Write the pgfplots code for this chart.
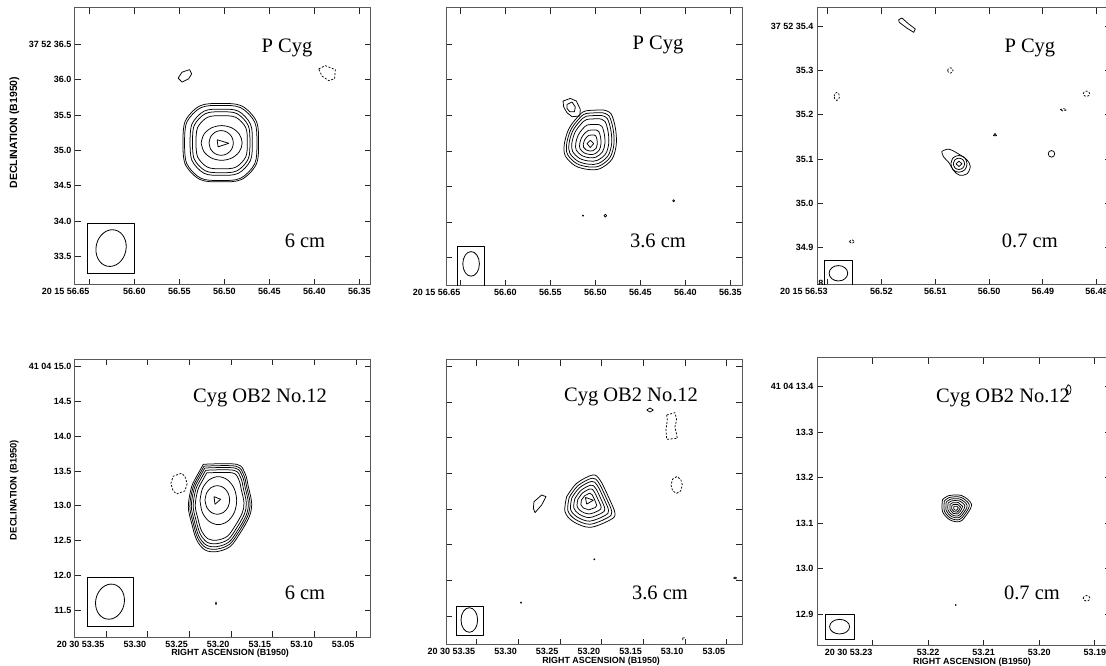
\documentclass[border=0pt]{standalone}
\usepackage{pgfplots}
\pgfplotsset{compat=1.18}
\usepackage{fontspec}
\setmainfont{Liberation Serif}
\newfontfamily\lsans{Liberation Sans}
\usetikzlibrary{shapes.geometric}
\newcommand{\tickfont}{\lsans\bfseries\fontsize{9}{10}\selectfont}
\newcommand{\labfont}{\lsans\bfseries\fontsize{8.9}{11}\selectfont}
\newcommand{\titfont}{\fontsize{20.5}{24}\selectfont}
\tikzset{beam/.style={draw=black, line width=0.8pt}}
\pgfplotsset{
  panel/.style={scale only axis, anchor=south west, x dir=reverse,
    axis line style={draw=black!65, line width=1pt},
    tick style={black!85, line width=0.8pt}, major tick length=6pt,
    tick align=inside, xtick pos=both, ytick pos=both,
    xticklabel style={font=\tickfont},
    yticklabel style={font=\tickfont},
    label style={font=\labfont},
    scaled x ticks=false, scaled y ticks=false, clip=true},
  cnt/.style={black, line width=0.75pt, mark=none, line join=round},
  scnt/.style={cnt, smooth, tension=0.55},
  neg/.style={cnt, dash pattern=on 2pt off 1.6pt},
}
\begin{document}
\begin{tikzpicture}
\useasboundingbox (0,0) rectangle (1106pt,666pt);
\clip (0,0) rectangle (1106pt,666pt);

% ---------------- Panel 1: P Cyg 6 cm
\begin{axis}[panel, at={(75pt,381pt)}, width=296pt, height=277pt,
  xmin=56.337, xmax=56.666, ymin=33.10, ymax=37.01,
  xtick={56.65,56.60,56.55,56.50,56.45,56.40,56.35},
  xticklabels={\llap{20 15 56.65},56.60,56.55,56.50,56.45,56.40,56.35},
  ytick={33.5,34.0,34.5,35.0,35.5,36.0,36.5},
  yticklabels={33.5,34.0,34.5,35.0,35.5,36.0,37 52 36.5},
  ylabel={DECLINATION (B1950)},
  ylabel style={at={(axis description cs:-0.205,0.55)}, anchor=center, font=\lsans\bfseries\fontsize{10.5}{12}\selectfont}]
\addplot[scnt] coordinates {(56.546,35.109) (56.5435,35.413) (56.5271,35.629) (56.504,35.662) (56.4809,35.629) (56.4645,35.413) (56.462,35.109) (56.4645,34.805) (56.4809,34.589) (56.504,34.556) (56.5271,34.589) (56.5435,34.805) (56.546,35.109)};
\addplot[scnt] coordinates {(56.5442,35.105) (56.5418,35.397) (56.5261,35.603) (56.504,35.635) (56.4819,35.603) (56.4662,35.397) (56.4638,35.105) (56.4662,34.813) (56.4819,34.607) (56.504,34.575) (56.5261,34.607) (56.5418,34.813) (56.5442,35.105)};
\addplot[scnt] coordinates {(56.5381,35.115) (56.536,35.372) (56.5225,35.554) (56.5035,35.582) (56.4845,35.554) (56.471,35.372) (56.4689,35.115) (56.471,34.858) (56.4845,34.676) (56.5035,34.648) (56.5225,34.676) (56.536,34.858) (56.5381,35.115)};
\addplot[scnt] coordinates {(56.5354,35.115) (56.5335,35.352) (56.521,35.519) (56.5035,35.545) (56.486,35.519) (56.4735,35.352) (56.4716,35.115) (56.4735,34.878) (56.486,34.711) (56.5035,34.685) (56.521,34.711) (56.5335,34.878) (56.5354,35.115)};
\addplot[scnt] coordinates {(56.5315,35.115) (56.5298,35.321) (56.5187,35.467) (56.503,35.489) (56.4873,35.467) (56.4762,35.321) (56.4745,35.115) (56.4762,34.909) (56.4873,34.763) (56.503,34.741) (56.5187,34.763) (56.5298,34.909) (56.5315,35.115)};
\addplot[scnt] coordinates {(56.5258,35.105) (56.5227,35.2275) (56.5144,35.317) (56.503,35.350) (56.4916,35.317) (56.4833,35.2275) (56.4802,35.105) (56.4833,34.9825) (56.4916,34.893) (56.503,34.860) (56.5144,34.893) (56.5227,34.9825) (56.5258,35.105)};
\addplot[scnt] coordinates {(56.517,35.105) (56.5152,35.1925) (56.5103,35.2566) (56.5035,35.280) (56.4968,35.2566) (56.4918,35.1925) (56.49,35.105) (56.4918,35.0175) (56.4968,34.9534) (56.5035,34.930) (56.5103,34.9534) (56.5152,35.0175) (56.517,35.105)};
\addplot[cnt] coordinates {(56.508,35.15) (56.495,35.10) (56.507,35.05) (56.508,35.15)};
\addplot[cnt] coordinates {(56.5514,36.020) (56.5470,36.104) (56.5386,36.140) (56.5363,36.080) (56.5397,36.010) (56.5470,35.964) (56.5514,36.020)};
\addplot[neg] coordinates {(56.3952,36.150) (56.3878,36.196) (56.3767,36.140) (56.3775,36.010) (56.3841,35.986) (56.3914,36.048) (56.3952,36.150)};
\addplot[cnt] coordinates {(56.6522,33.262) (56.6000,33.262) (56.6000,33.963) (56.6522,33.963) (56.6522,33.262)};
\node[beam, ellipse, minimum width=30pt, minimum height=37pt, inner sep=0pt, rotate=-12] at (axis cs:56.6259,33.621) {};
\node[font=\titfont, anchor=base] at (rel axis cs:0.716,0.841) {P Cyg};
\node[font=\titfont, anchor=base] at (rel axis cs:0.777,0.134) {6 cm};
\end{axis}

% ---------------- Panel 2: P Cyg 3.6 cm
\begin{axis}[panel, at={(446pt,380pt)}, width=296pt, height=278pt,
  xmin=56.337, xmax=56.666, ymin=33.10, ymax=37.01,
  xtick={56.65,56.60,56.55,56.50,56.45,56.40,56.35},
  xticklabels={\llap{20 15 56.65},56.60,56.55,56.50,56.45,56.40,56.35},
  ytick={33.5,34.0,34.5,35.0,35.5,36.0,36.5}, yticklabels={}]
\addplot[scnt] coordinates {(56.4908,35.5747) (56.4826,35.5233) (56.4778,35.3271) (56.4767,35.0934) (56.4815,34.8831) (56.4945,34.7523) (56.5075,34.7383) (56.5223,34.7897) (56.5334,34.9299) (56.5345,35.0934) (56.5297,35.3037) (56.5204,35.4673) (56.5112,35.5607) (56.4908,35.5747)};
\addplot[scnt] coordinates {(56.4921,35.5364) (56.4847,35.4897) (56.4803,35.3111) (56.4793,35.0984) (56.4837,34.9071) (56.4955,34.7880) (56.5073,34.7753) (56.5208,34.8221) (56.5309,34.9497) (56.5319,35.0984) (56.5275,35.2898) (56.5191,35.4387) (56.5107,35.5237) (56.4921,35.5364)};
\addplot[scnt] coordinates {(56.4935,35.4982) (56.4868,35.4560) (56.4828,35.2951) (56.4819,35.1035) (56.4859,34.9311) (56.4965,34.8238) (56.5071,34.8123) (56.5193,34.8545) (56.5284,34.9694) (56.5293,35.1035) (56.5253,35.2759) (56.5177,35.4101) (56.5102,35.4867) (56.4935,35.4982)};
\addplot[scnt] coordinates {(56.4951,35.4514) (56.4893,35.4149) (56.4859,35.2756) (56.4851,35.1097) (56.4885,34.9604) (56.4977,34.8675) (56.5069,34.8575) (56.5174,34.8940) (56.5253,34.9936) (56.5261,35.1097) (56.5227,35.2590) (56.5161,35.3751) (56.5096,35.4415) (56.4951,35.4514)};
\addplot[scnt] coordinates {(56.4973,35.3726) (56.4927,35.3438) (56.4900,35.2340) (56.4894,35.1031) (56.4921,34.9853) (56.4994,34.9121) (56.5066,34.9042) (56.5149,34.9330) (56.5212,35.0115) (56.5218,35.1031) (56.5191,35.2209) (56.5139,35.3125) (56.5087,35.3648) (56.4973,35.3726)};
\addplot[scnt] coordinates {(56.4995,35.2938) (56.4962,35.2728) (56.4942,35.1923) (56.4938,35.0965) (56.4957,35.0103) (56.5010,34.9566) (56.5064,34.9509) (56.5124,34.9720) (56.5170,35.0295) (56.5174,35.0965) (56.5155,35.1827) (56.5117,35.2498) (56.5079,35.2881) (56.4995,35.2938)};
\addplot[cnt] coordinates {(56.5016,35.2243) (56.4994,35.2104) (56.4981,35.1575) (56.4978,35.0944) (56.4991,35.0376) (56.5026,35.0023) (56.5061,34.9985) (56.5101,35.0124) (56.5131,35.0502) (56.5134,35.0944) (56.5121,35.1511) (56.5096,35.1953) (56.5071,35.2205) (56.5016,35.2243)};
\addplot[cnt] coordinates {(56.5093,35.1028) (56.5056,35.1495) (56.5019,35.1028) (56.5056,35.0467) (56.5093,35.1028)};
\addplot[cnt] coordinates {(56.5359,35.701) (56.5278,35.738) (56.5211,35.701) (56.5167,35.584) (56.5174,35.491) (56.5259,35.481) (56.5315,35.537) (56.5352,35.617) (56.5359,35.701)};
\addplot[cnt] coordinates {(56.5315,35.654) (56.5259,35.687) (56.5222,35.617) (56.5233,35.551) (56.5285,35.551) (56.5315,35.598) (56.5315,35.654)};
\addplot[only marks, mark=*, mark size=0.7pt, black] coordinates {(56.5137,34.089)};
\addplot[cnt] coordinates {(56.4904,34.089) (56.4889,34.109) (56.4874,34.089) (56.4889,34.069) (56.4904,34.089)};
\addplot[cnt] coordinates {(56.4140,34.299) (56.4130,34.313) (56.4120,34.299) (56.4130,34.285) (56.4140,34.299)};
\addplot[cnt] coordinates {(56.6537,33.10) (56.6230,33.10) (56.6230,33.654) (56.6537,33.654) (56.6537,33.10)};
\node[beam, ellipse, minimum width=16.6pt, minimum height=24.6pt, inner sep=0pt] at (axis cs:56.6381,33.411) {};
\node[font=\titfont, anchor=base] at (rel axis cs:0.716,0.849) {P Cyg};
\node[font=\titfont, anchor=base] at (rel axis cs:0.716,0.137) {3.6 cm};
\end{axis}

% ---------------- Panel 3: P Cyg 0.7 cm
\begin{axis}[panel, at={(817pt,381pt)}, width=294pt, height=277pt,
  xmin=56.47734, xmax=56.53198, ymin=34.8155, ymax=35.4415,
  xtick={56.53,56.52,56.51,56.50,56.49,56.48},
  xticklabels={\llap{20 15 56.53},56.52,56.51,56.50,56.49,56.48},
  ytick={34.9,35.0,35.1,35.2,35.3,35.4},
  yticklabels={34.9,35.0,35.1,35.2,35.3,37 52 35.4}]
\addplot[scnt] coordinates {(56.5088,35.1172) (56.5075,35.1225) (56.5057,35.1119) (56.5041,35.0983) (56.5035,35.0833) (56.5041,35.0667) (56.5055,35.0637) (56.5066,35.0742) (56.5074,35.0908) (56.5085,35.1059) (56.5088,35.1172)};
\addplot[scnt] coordinates {(56.5071,35.0893) (56.5067,35.1027) (56.5056,35.1082) (56.5045,35.1027) (56.5041,35.0893) (56.5045,35.0759) (56.5056,35.0704) (56.5067,35.0759) (56.5071,35.0893)};
\addplot[scnt] coordinates {(56.50665,35.0893) (56.50635,35.0984) (56.5056,35.1021) (56.50485,35.0984) (56.50455,35.0893) (56.50485,35.0802) (56.5056,35.0765) (56.50635,35.0802) (56.50665,35.0893)};
\addplot[cnt] coordinates {(56.50616,35.0893) (56.5056,35.0953) (56.50504,35.0893) (56.5056,35.0833) (56.50616,35.0893)};
\addplot[cnt] coordinates {(56.5162,35.4189) (56.5150,35.4060) (56.5137,35.3940) (56.5140,35.3864) (56.5153,35.3962) (56.5167,35.4090) (56.5168,35.4151) (56.5162,35.4189)};
\addplot[neg] coordinates {(56.5077,35.3004) (56.50756,35.3047) (56.5072,35.3064) (56.50684,35.3047) (56.5067,35.3004) (56.50684,35.2961) (56.5072,35.2944) (56.50756,35.2961) (56.5077,35.3004)};
\addplot[neg] coordinates {(56.5288,35.2416) (56.52866,35.248) (56.5283,35.2506) (56.52794,35.248) (56.5278,35.2416) (56.52794,35.2352) (56.5283,35.2326) (56.52866,35.2352) (56.5288,35.2416)};
\addplot[neg] coordinates {(56.4825,35.2477) (56.48233,35.252) (56.4819,35.2537) (56.48147,35.252) (56.4813,35.2477) (56.48147,35.2434) (56.4819,35.2417) (56.48233,35.2434) (56.4825,35.2477)};
\addplot[neg] coordinates {(56.4868,35.2115) (56.4862,35.2145) (56.4856,35.2115) (56.4862,35.2085) (56.4868,35.2115)};
\addplot[neg] coordinates {(56.526,34.9136) (56.5255,34.9181) (56.525,34.9136) (56.5255,34.9091) (56.526,34.9136)};
\addplot[cnt] coordinates {(56.4992,35.153) (56.4989,35.158) (56.4986,35.153) (56.4992,35.153)};
\addplot[cnt] coordinates {(56.489,35.1119) (56.48883,35.1172) (56.4884,35.1194) (56.48797,35.1172) (56.4878,35.1119) (56.48797,35.1066) (56.4884,35.1044) (56.48883,35.1066) (56.489,35.1119)};
\addplot[cnt] coordinates {(56.5306,34.8155) (56.5254,34.8155) (56.5254,34.8706) (56.5306,34.8706) (56.5306,34.8155)};
\node[beam, ellipse, minimum width=18.6pt, minimum height=15.4pt, inner sep=0pt] at (axis cs:56.528,34.842) {};
\node[font=\tickfont, anchor=east] at (rel axis cs:0,0) [xshift=10pt, yshift=2pt] {34.8};
\node[font=\titfont, anchor=base] at (rel axis cs:0.724,0.841) {P Cyg};
\node[font=\titfont, anchor=base] at (rel axis cs:0.724,0.134) {0.7 cm};
\end{axis}

% ---------------- Panel 4: Cyg OB2 No.12 6 cm
\begin{axis}[panel, at={(75pt,28.7pt)}, width=296pt, height=278pt,
  xmin=53.032, xmax=53.3872, ymin=11.1074, ymax=15.1055,
  xtick={53.35,53.30,53.25,53.20,53.15,53.10,53.05},
  xticklabels={20 30 53.35,53.30,53.25,53.20,53.15,53.10,53.05},
  xticklabel style={anchor=north east, xshift=2pt},
  ytick={11.5,12.0,12.5,13.0,13.5,14.0,14.5,15.0},
  yticklabels={11.5,12.0,12.5,13.0,13.5,14.0,14.5,41 04 15.0},
  xlabel={RIGHT ASCENSION (B1950)},
  xlabel style={at={(axis description cs:0.524,0)}, anchor=center, yshift=-16pt},
  ylabel={DECLINATION (B1950)},
  ylabel style={at={(axis description cs:-0.205,0.53)}, anchor=center, font=\lsans\bfseries\fontsize{9.4}{11}\selectfont}]
\addplot[scnt] coordinates {(53.2332,13.5954) (53.1932,13.5954) (53.1832,13.4660) (53.1792,13.2742) (53.1752,13.0345) (53.1780,12.8428) (53.1892,12.6031) (53.2012,12.4113) (53.2172,12.3394) (53.2312,12.3634) (53.2412,12.5072) (53.2472,12.7469) (53.2512,12.9866) (53.2472,13.2742) (53.2392,13.4660) (53.2332,13.5954)};
\addplot[scnt] coordinates {(53.2323,13.5686) (53.1943,13.5686) (53.1848,13.4456) (53.1810,13.2634) (53.1772,13.0357) (53.1799,12.8536) (53.1905,12.6259) (53.2019,12.4437) (53.2171,12.3754) (53.2304,12.3982) (53.2399,12.5348) (53.2456,12.7625) (53.2494,12.9902) (53.2456,13.2634) (53.2380,13.4456) (53.2323,13.5686)};
\addplot[scnt] coordinates {(53.2314,13.5417) (53.1954,13.5417) (53.1864,13.4253) (53.1828,13.2526) (53.1792,13.0369) (53.1817,12.8644) (53.1918,12.6486) (53.2026,12.4760) (53.2170,12.4113) (53.2296,12.4329) (53.2386,12.5623) (53.2440,12.7781) (53.2476,12.9938) (53.2440,13.2526) (53.2368,13.4253) (53.2314,13.5417)};
\addplot[scnt] coordinates {(53.2303,13.5095) (53.1967,13.5095) (53.1883,13.4008) (53.1850,13.2397) (53.1816,13.0383) (53.1840,12.8773) (53.1934,12.6760) (53.2034,12.5149) (53.2169,12.4545) (53.2286,12.4746) (53.2370,12.5954) (53.2421,12.7968) (53.2454,12.9981) (53.2421,13.2397) (53.2354,13.4008) (53.2303,13.5095)};
\addplot[scnt] coordinates {(53.2291,13.4719) (53.1983,13.4719) (53.1906,13.3723) (53.1875,13.2246) (53.1844,13.0400) (53.1866,12.8924) (53.1952,12.7078) (53.2044,12.5602) (53.2167,12.5048) (53.2275,12.5233) (53.2352,12.6340) (53.2398,12.8186) (53.2429,13.0031) (53.2398,13.2246) (53.2337,13.3723) (53.2291,13.4719)};
\addplot[scnt] coordinates {(53.2372,13.0729) (53.2343,13.2454) (53.2262,13.3717) (53.2152,13.4179) (53.2042,13.3717) (53.1961,13.2454) (53.1932,13.0729) (53.1961,12.9004) (53.2042,12.7741) (53.2152,12.7279) (53.2262,12.7741) (53.2343,12.9004) (53.2372,13.0729)};
\addplot[scnt] coordinates {(53.2312,13.0825) (53.2292,13.1855) (53.2238,13.2609) (53.2164,13.2885) (53.2090,13.2609) (53.2036,13.1855) (53.2016,13.0825) (53.2036,12.9795) (53.2090,12.9041) (53.2164,12.8765) (53.2238,12.9041) (53.2292,12.9795) (53.2312,13.0825)};
\addplot[cnt] coordinates {(53.2204,13.1304) (53.2124,13.0920) (53.2192,13.0213) (53.2204,13.1304)};
\addplot[neg] coordinates {(53.2722,13.318) (53.2694,13.424) (53.2594,13.467) (53.2554,13.424) (53.2526,13.318) (53.2554,13.212) (53.2654,13.169) (53.2694,13.212) (53.2722,13.318)};
\addplot[cnt] coordinates {(53.2185,11.596) (53.218,11.616) (53.2175,11.596) (53.218,11.576) (53.2185,11.596)};
\addplot[cnt] coordinates {(53.3724,11.270) (53.3172,11.270) (53.3172,11.970) (53.3724,11.970) (53.3724,11.270)};
\node[beam, ellipse, minimum width=28.6pt, minimum height=35.4pt, inner sep=0pt, rotate=-12] at (axis cs:53.3452,11.620) {};
\node[font=\titfont, anchor=base] at (rel axis cs:0.625,0.846) {Cyg OB2 No.12};
\node[font=\titfont, anchor=base] at (rel axis cs:0.777,0.136) {6 cm};
\end{axis}

% ---------------- Panel 5: Cyg OB2 No.12 3.6 cm
\begin{axis}[panel, at={(446pt,21pt)}, width=296pt, height=285pt,
  xmin=53.0316, xmax=53.3868, ymin=11.0927, ymax=15.0936,
  xtick={53.35,53.30,53.25,53.20,53.15,53.10,53.05},
  xticklabels={20 30 53.35,53.30,53.25,53.20,53.15,53.10,53.05},
  xticklabel style={anchor=north east, xshift=2pt},
  ytick={11.5,12.0,12.5,13.0,13.5,14.0,14.5,15.0}, yticklabels={},
  xlabel={RIGHT ASCENSION (B1950)},
  xlabel style={at={(axis description cs:0.524,0)}, anchor=center, yshift=-16pt}]
\addplot[scnt] coordinates {(53.242,13.175) (53.230,13.3622) (53.2108,13.4792) (53.202,13.409) (53.192,13.175) (53.184,12.941) (53.190,12.8474) (53.214,12.7445) (53.234,12.824) (53.244,12.9644) (53.242,13.175)};
\addplot[scnt] coordinates {(53.2389,13.1666) (53.2283,13.3313) (53.2114,13.4343) (53.2037,13.3725) (53.1949,13.1666) (53.1878,12.9607) (53.1931,12.8783) (53.2142,12.7877) (53.2318,12.8577) (53.2406,12.9812) (53.2389,13.1666)};
\addplot[scnt] coordinates {(53.2358,13.1582) (53.2266,13.3004) (53.2121,13.3893) (53.2054,13.3360) (53.1978,13.1582) (53.1917,12.9803) (53.1962,12.9092) (53.2145,12.8310) (53.2297,12.8914) (53.2373,12.9981) (53.2358,13.1582)};
\addplot[scnt] coordinates {(53.2321,13.1483) (53.2247,13.2644) (53.2128,13.3369) (53.2073,13.2934) (53.2011,13.1483) (53.1962,13.0032) (53.1999,12.9452) (53.2148,12.8814) (53.2272,12.9307) (53.2334,13.0178) (53.2321,13.1483)};
\addplot[scnt] coordinates {(53.2285,13.1385) (53.2227,13.2284) (53.2135,13.2845) (53.2093,13.2508) (53.2045,13.1385) (53.2006,13.0262) (53.2035,12.9812) (53.2150,12.9319) (53.2246,12.9700) (53.2294,13.0374) (53.2285,13.1385)};
\addplot[cnt] coordinates {(53.2243,13.1273) (53.2205,13.1872) (53.2143,13.2246) (53.2115,13.2021) (53.2083,13.1273) (53.2058,13.0524) (53.2077,13.0224) (53.2154,12.9895) (53.2218,13.0149) (53.2250,13.0599) (53.2243,13.1273)};
\addplot[cnt] coordinates {(53.2195,13.165) (53.2100,13.125) (53.2180,13.070) (53.2195,13.165)};
\addplot[cnt] coordinates {(53.2812,13.1048) (53.272,13.1984) (53.2668,13.175) (53.272,13.058) (53.28,12.9504) (53.282,13.0112) (53.2812,13.1048)};
\addplot[only marks, mark=*, mark size=0.7pt, black] coordinates {(53.2088,12.2953) (53.2968,11.687)};
\addplot[cnt] coordinates {(53.146,14.3917) (53.142,14.42) (53.138,14.3917) (53.142,14.363) (53.146,14.3917)};
\addplot[neg] coordinates {(53.122,14.3215) (53.112,14.3542) (53.11,14.2513) (53.112,14.1577) (53.1092,13.9939) (53.122,13.9799) (53.1228,14.1109) (53.1212,14.2513) (53.122,14.3215)};
\addplot[neg] coordinates {(53.1032,13.3388) (53.1052,13.4219) (53.11,13.4558) (53.1148,13.4219) (53.1168,13.3388) (53.1148,13.2557) (53.11,13.2218) (53.1052,13.2557) (53.1032,13.3388)};
\addplot[cnt] coordinates {(53.038,12.04) (53.041,12.045) (53.0415,12.03) (53.038,12.02)};
\addplot[cnt] coordinates {(53.1028,11.16) (53.1028,11.19) (53.1005,11.195)};
\addplot[cnt] coordinates {(53.3748,11.233) (53.342,11.233) (53.342,11.640) (53.3748,11.640) (53.3748,11.233)};
\node[beam, ellipse, minimum width=16.6pt, minimum height=24.6pt, inner sep=0pt] at (axis cs:53.3588,11.4436) {};
\node[font=\titfont, anchor=base] at (rel axis cs:0.625,0.853) {Cyg OB2 No.12};
\node[font=\titfont, anchor=base] at (rel axis cs:0.723,0.158) {3.6 cm};
\end{axis}

% ---------------- Panel 6: Cyg OB2 No.12 0.7 cm
\begin{axis}[panel, at={(817pt,20pt)}, width=294pt, height=288pt,
  xmin=53.1871, xmax=53.23996, ymin=12.8305, ymax=13.4622,
  xtick={53.23,53.22,53.21,53.20,53.19},
  xticklabels={\llap{20 30 53.23},53.22,53.21,53.20,53.19},
  ytick={12.9,13.0,13.1,13.2,13.3,13.4},
  yticklabels={12.9,13.0,13.1,13.2,13.3,41 04 13.4},
  xlabel={RIGHT ASCENSION (B1950)},
  xlabel style={at={(axis description cs:0.527,0)}, anchor=center, yshift=-16pt}]
\addplot[scnt] coordinates {(53.2174,13.1511) (53.21638,13.1599) (53.21398,13.1606) (53.21218,13.1416) (53.21308,13.1182) (53.21428,13.1035) (53.21608,13.1072) (53.2174,13.1255) (53.2174,13.1511)};
\addplot[scnt] coordinates {(53.21706,13.1485) (53.21619,13.1561) (53.21412,13.1567) (53.21258,13.1404) (53.21335,13.1202) (53.21438,13.1076) (53.21593,13.1108) (53.21706,13.1265) (53.21706,13.1485)};
\addplot[scnt] coordinates {(53.21673,13.146) (53.21599,13.1523) (53.21427,13.1528) (53.21297,13.1391) (53.21362,13.1223) (53.21448,13.1117) (53.21578,13.1144) (53.21673,13.1275) (53.21673,13.146)};
\addplot[scnt] coordinates {(53.21639,13.1434) (53.2158,13.1485) (53.21441,13.1489) (53.21336,13.1379) (53.21389,13.1243) (53.21458,13.1158) (53.21563,13.118) (53.21639,13.1286) (53.21639,13.1434)};
\addplot[cnt] coordinates {(53.21606,13.1409) (53.21561,13.1447) (53.21455,13.145) (53.21376,13.1367) (53.21416,13.1264) (53.21468,13.1199) (53.21548,13.1215) (53.21606,13.1296) (53.21606,13.1409)};
\addplot[cnt] coordinates {(53.21572,13.1383) (53.21541,13.1409) (53.21469,13.1411) (53.21415,13.1354) (53.21442,13.1284) (53.21478,13.124) (53.21532,13.1251) (53.21572,13.1306) (53.21572,13.1383)};
\addplot[cnt] coordinates {(53.21538,13.1357) (53.21522,13.1371) (53.21484,13.1372) (53.21455,13.1342) (53.2147,13.1305) (53.21489,13.1281) (53.21517,13.1287) (53.21538,13.1316) (53.21538,13.1357)};
\addplot[cnt] coordinates {(53.1953,13.3927) (53.19494,13.4005) (53.1948,13.4037) (53.19444,13.4005) (53.1943,13.3927) (53.19444,13.3849) (53.1948,13.3817) (53.19494,13.3849) (53.1953,13.3927)};
\addplot[neg] coordinates {(53.1921,12.9351) (53.19193,12.9394) (53.1915,12.9411) (53.19107,12.9394) (53.1909,12.9351) (53.19107,12.9308) (53.1915,12.9291) (53.19193,12.9308) (53.1921,12.9351)};
\addplot[only marks, mark=*, mark size=0.6pt, black] coordinates {(53.215,12.9205)};
\addplot[cnt] coordinates {(53.2385,12.8451) (53.2332,12.8451) (53.2332,12.9007) (53.2385,12.9007) (53.2385,12.8451)};
\node[beam, ellipse, minimum width=20pt, minimum height=14.6pt, inner sep=0pt] at (axis cs:53.2359,12.8729) {};
\node[font=\titfont, anchor=base] at (rel axis cs:0.633,0.847) {Cyg OB2 No.12};
\node[font=\titfont, anchor=base] at (rel axis cs:0.731,0.16) {0.7 cm};
\end{axis}
\end{tikzpicture}
\end{document}
